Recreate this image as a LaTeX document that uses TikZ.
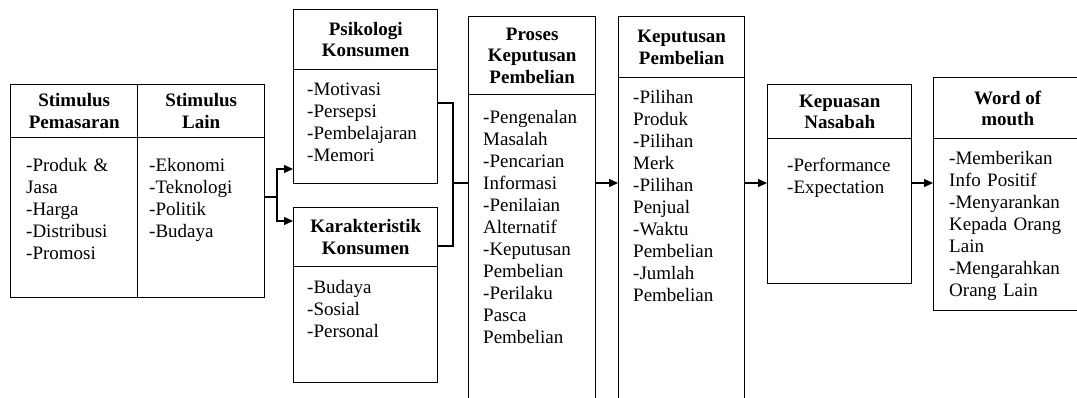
\documentclass[tikz,border=0pt]{standalone}
\usepackage{fontspec}
\setmainfont{Liberation Serif}
\usetikzlibrary{arrows.meta}
\tikzset{
  hd/.style={draw, line width=1.4pt, anchor=north west, inner sep=0pt,
    align=center, font=\fontsize{19}{21.5}\selectfont\bfseries},
  bd/.style={draw, line width=1.4pt, anchor=north west, inner sep=0pt},
  txt/.style={anchor=base west, inner sep=0pt, text width=150pt,
    align=left, font=\fontsize{19}{22}\selectfont},
  ln/.style={line width=1.4pt},
  arr/.style={line width=1.4pt, -{Triangle[length=9pt,width=8pt]}},
}
\begin{document}
\begin{tikzpicture}[x=1pt,y=-1pt]
\useasboundingbox (0,0) rectangle (1077,397);
% Stimulus
\node[hd, minimum width=127, minimum height=53] (stmPH) at (10,84) {Stimulus\\Pemasaran};
\node[hd, minimum width=127, minimum height=53] (stmLH) at (137,84) {Stimulus\\Lain};
\node[bd, minimum width=127, minimum height=160] (stmPB) at (10,137) {};
\node[bd, minimum width=127, minimum height=160] (stmLB) at (137,137) {};
\node[txt] (stmPT) at (26,171) {-Produk \&\\Jasa\\-Harga\\-Distribusi\\-Promosi};
\node[txt] (stmLT) at (149,171) {-Ekonomi\\-Teknologi\\-Politik\\-Budaya};
% Psikologi and Karakteristik
\node[hd, minimum width=144, minimum height=60] (psiH) at (293,9) {Psikologi\\Konsumen};
\node[bd, minimum width=144, minimum height=114] (psiB) at (293,69) {};
\node[txt] (psiT) at (307,95) {-Motivasi\\-Persepsi\\-Pembelajaran\\-Memori};
\node[hd, minimum width=144, minimum height=59] (karH) at (293,207) {Karakteristik\\Konsumen};
\node[bd, minimum width=144, minimum height=116] (karB) at (293,266) {};
\node[txt] (karT) at (307,293) {-Budaya\\-Sosial\\-Personal};
% Proses Keputusan Pembelian
\node[hd, minimum width=127, minimum height=78] (proH) at (468,16) {Proses\\Keputusan\\Pembelian};
\node[bd, minimum width=127, minimum height=320] (proB) at (468,94) {};
\node[txt] (proT) at (483,123) {-Pengenalan\\Masalah\\-Pencarian\\Informasi\\-Penilaian\\Alternatif\\-Keputusan\\Pembelian\\-Perilaku\\Pasca\\Pembelian};
% Keputusan Pembelian
\node[hd, minimum width=126, minimum height=61] (kepH) at (618,16) {Keputusan\\Pembelian};
\node[bd, minimum width=126, minimum height=337] (kepB) at (618,77) {};
\node[txt] (kepT) at (633,103) {-Pilihan\\Produk\\-Pilihan\\Merk\\-Pilihan\\Penjual\\-Waktu\\Pembelian\\-Jumlah\\Pembelian};
% Kepuasan Nasabah
\node[hd, minimum width=144, minimum height=54] (puaH) at (767,84) {Kepuasan\\Nasabah};
\node[bd, minimum width=144, minimum height=145] (puaB) at (767,138) {};
\node[txt] (puaT) at (787,171) {-Performance\\-Expectation};
% Word of mouth
\node[hd, minimum width=148, minimum height=61] (womH) at (933,77) {Word of\\mouth};
\node[bd, minimum width=148, minimum height=172] (womB) at (933,138) {};
\node[txt] (womT) at (949,164) {-Memberikan\\Info Positif\\-Menyarankan\\Kepada Orang\\Lain\\-Mengarahkan\\Orang Lain};
% connectors
\coordinate (split) at (277,197);
\coordinate (join) at (453,183);
\draw[ln] (stmLB.east |- split) -- (split);
\draw[arr] (split) |- (psiB.west |- 0,169);
\draw[arr] (split) |- (karH.west |- 0,221);
\draw[ln] (psiB.east |- 0,103) -| (join) |- (karH.east |- 0,246);
\draw[ln] (join) -- (proB.west |- join);
\draw[arr] (proB.east |- join) -- (kepB.west |- join);
\draw[arr] (kepB.east |- join) -- (puaB.west |- join);
\draw[arr] (puaB.east |- join) -- (womB.west |- join);
\end{tikzpicture}
\end{document}
